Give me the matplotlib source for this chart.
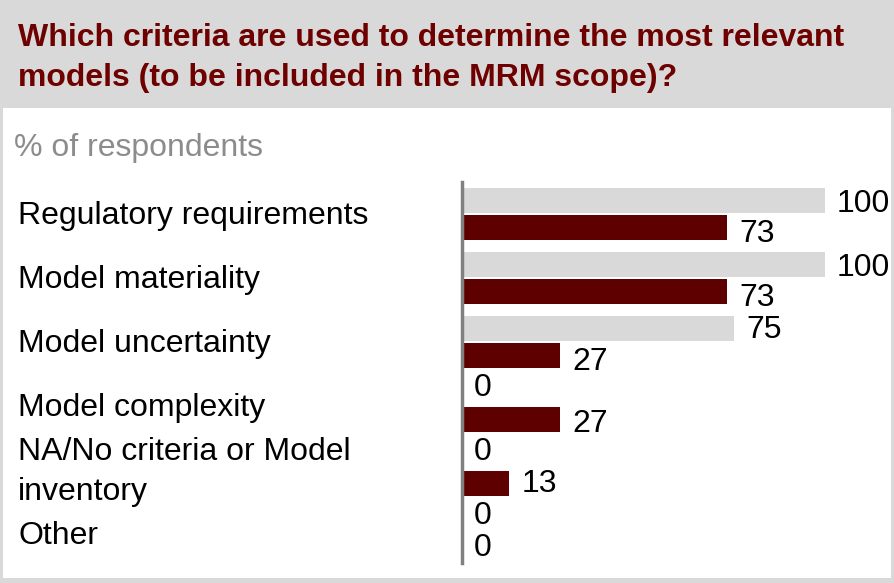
import matplotlib
matplotlib.use("Agg")
import matplotlib.pyplot as plt
import matplotlib.transforms as mtransforms
from matplotlib.patches import Rectangle

categories = ["Regulatory requirements", "Model materiality", "Model uncertainty",
              "Model complexity", "NA/No criteria or Model\ninventory", "Other"]
series_gray = [100, 100, 75, 0, 0, 0]
series_red = [73, 73, 27, 27, 13, 0]

title = "Which criteria are used to determine the most relevant\nmodels (to be included in the MRM scope)?"
subtitle = "% of respondents"

# vertical nudges of value labels (pixels, positive = down), as in the reference layout
nudge_gray_px = [3, 3, 1, -5, -4, -5]
nudge_red_px = [7, 7, 6, 4, 0, 0]

W, H = 894, 583
fig = plt.figure(figsize=(W / 100, H / 100), dpi=100)
fig.patch.set_facecolor("#D9D9D9")

def fx(px):
    return px / W

def fy(py):
    return 1 - py / H

# white panel
bg = fig.add_axes([fx(3), fy(578), fx(891) - fx(3), fy(108) - fy(578)], zorder=0)
bg.axis("off")
bg.add_patch(Rectangle((0, 0), 1, 1, transform=bg.transAxes, facecolor="white", edgecolor="none"))

fig.text(fx(18), fy(58), title, fontsize=23, fontweight="bold", color="#6E0000",
         family=["Liberation Sans", "DejaVu Sans"],
         va="center", ha="left", linespacing=1.4, zorder=5)
fig.text(fx(14), fy(148), subtitle, fontsize=23, color="#8C8C8C",
         family=["Liberation Sans", "DejaVu Sans"], va="center", ha="left", zorder=5)

ax_left, ax_right = 462, 890
ax_top, ax_bot = 182, 563
ax = fig.add_axes([fx(ax_left), fy(ax_bot), fx(ax_right) - fx(ax_left), fy(ax_top) - fy(ax_bot)], zorder=2)
ax.set_facecolor("none")
scale = 3.63
ax.set_xlim(0, (ax_right - ax_left) / scale)
pitch = 64.0
ax.set_ylim((ax_bot - 214) / pitch, -(214 - ax_top) / pitch)

y = list(range(len(categories)))
off = 13.5 / pitch
h = 25 / pitch
yg = [v - off for v in y]
yr = [v + off for v in y]
ax.barh(yg, series_gray, height=h, color="#D9D9D9")
ax.barh(yr, series_red, height=h, color="#5E0000")

for spine in ["top", "right", "bottom"]:
    ax.spines[spine].set_visible(False)
ax.spines["left"].set_color("#808080")
ax.spines["left"].set_linewidth(2.5)
ax.set_xticks([])
ax.set_yticks([])

lab_font = dict(fontsize=23, color="black", family=["Liberation Sans", "DejaVu Sans"])
pad = 12 / scale
for yy, v, n in zip(yg, series_gray, nudge_gray_px):
    ax.text(v + pad, yy + n / pitch, str(v), va="center", ha="left", clip_on=False, **lab_font)
for yy, v, n in zip(yr, series_red, nudge_red_px):
    ax.text(v + pad, yy + n / pitch, str(v), va="center", ha="left", clip_on=False, **lab_font)

trans = mtransforms.blended_transform_factory(fig.transFigure, ax.transData)
for yy, c in zip(y, categories):
    ax.text(fx(18), yy + 2 / pitch, c, transform=trans, va="center", ha="left",
            linespacing=1.45, clip_on=False, **lab_font)

fig.savefig("out.png", dpi=100, facecolor=fig.get_facecolor())
